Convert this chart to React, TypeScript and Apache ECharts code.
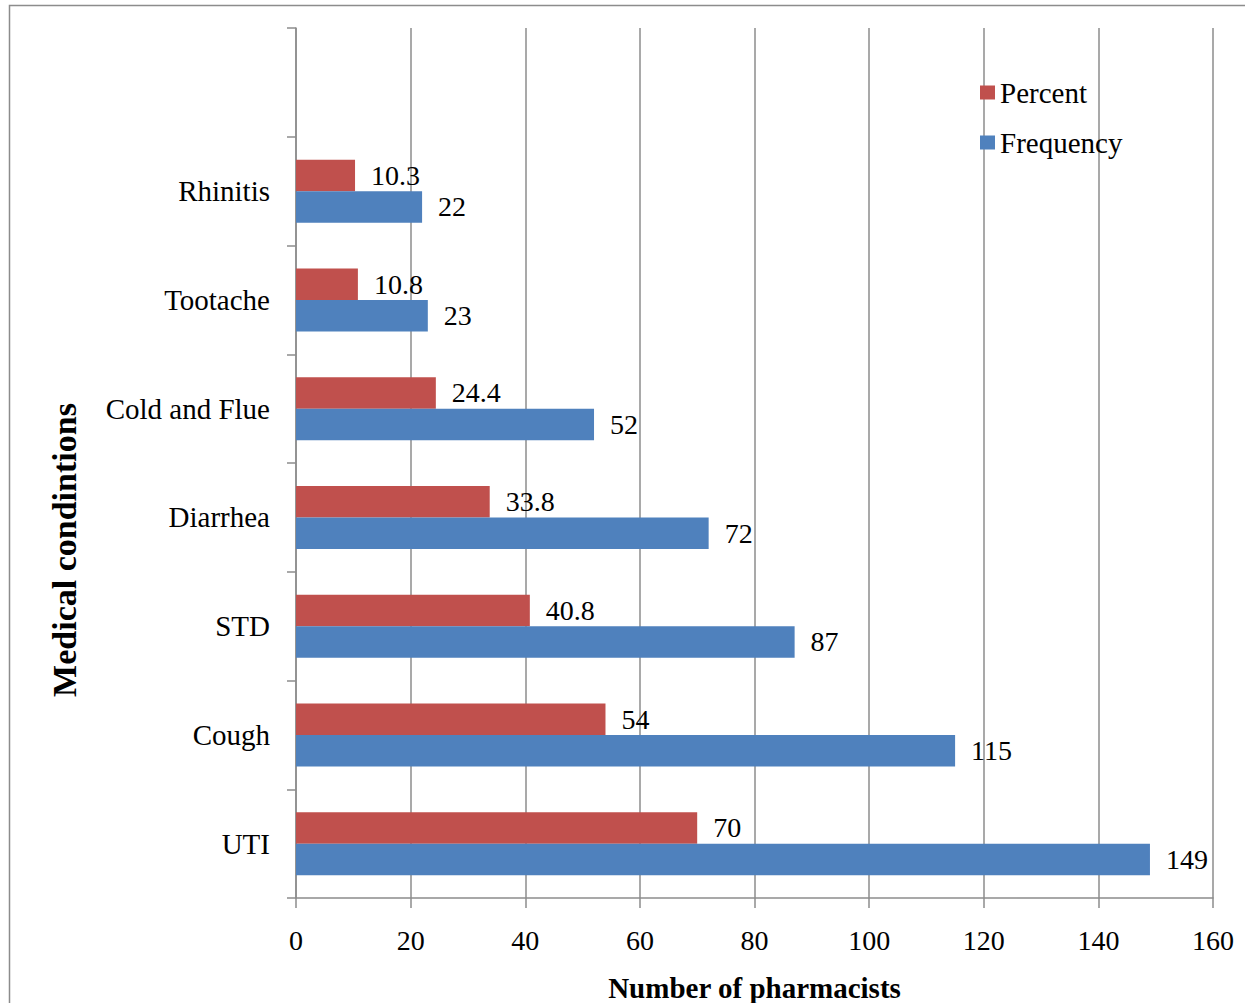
import React, { useEffect, useRef } from "react";
import * as echarts from "echarts";

const categories = ["UTI", "Cough", "STD", "Diarrhea", "Cold and Flue", "Tootache", "Rhinitis", ""];
const percentValues = [70, 54, 40.8, 33.8, 24.4, 10.8, 10.3, null];
const frequencyValues = [149, 115, 87, 72, 52, 23, 22, null];
const xTicks = { min: 0, max: 160, interval: 20 };

const FONT = "'Liberation Serif', 'Times New Roman', serif";

export default function App() {
  const ref = useRef<HTMLDivElement>(null);
  useEffect(() => {
    if (!ref.current) return;
    const chart = echarts.init(ref.current, null, { renderer: "svg" });
    const labelStyle = {
      show: true,
      position: "right",
      distance: 16,
      color: "#000",
      fontFamily: FONT,
      fontSize: 28,
    };
    chart.setOption({
      animation: false,
      backgroundColor: "#fff",
      grid: {
        left: 296,
        top: 28,
        width: 917,
        height: 870,
        containLabel: false,
        outerBoundsMode: "none",
      },
      legend: {
        orient: "vertical",
        left: 980,
        top: 78,
        padding: 0,
        itemWidth: 15,
        itemHeight: 14,
        itemGap: 21,
        icon: "rect",
        textStyle: { fontFamily: FONT, fontSize: 29, color: "#000", lineHeight: 29 },
        data: ["Percent", "Frequency"],
      },
      xAxis: {
        type: "value",
        min: xTicks.min,
        max: xTicks.max,
        interval: xTicks.interval,
        name: "Number of pharmacists",
        nameLocation: "middle",
        nameGap: 75,
        nameTextStyle: { fontFamily: FONT, fontSize: 29, fontWeight: "bold", color: "#000" },
        axisLine: { show: true, lineStyle: { color: "#8c8c8c", width: 1.5 } },
        axisTick: { show: true, length: 10, lineStyle: { color: "#8c8c8c", width: 1.5 } },
        axisLabel: { margin: 28, fontFamily: FONT, fontSize: 28, color: "#000" },
        splitLine: { show: true, lineStyle: { color: "#8c8c8c", width: 1.5 } },
      },
      yAxis: {
        type: "category",
        data: categories,
        axisLine: { show: true, lineStyle: { color: "#8c8c8c", width: 1.5 } },
        axisTick: { show: true, length: 9, lineStyle: { color: "#8c8c8c", width: 1.5 } },
        axisLabel: { margin: 26, fontFamily: FONT, fontSize: 29, color: "#000" },
        splitLine: { show: false },
      },
      graphic: [
        {
          type: "rect",
          shape: { x: 9.5, y: 5.5, width: 1400, height: 1200 },
          style: { fill: "none", stroke: "#8c8c8c", lineWidth: 1.5 },
          silent: true,
        },
        {
          type: "text",
          x: 64,
          y: 550,
          rotation: Math.PI / 2,
          style: {
            text: "Medical condintions",
            fontFamily: FONT,
            fontSize: 34,
            fontWeight: "bold",
            fill: "#000",
            align: "center",
            verticalAlign: "middle",
          },
        },
      ],
      series: [
        {
          name: "Percent",
          type: "bar",
          data: percentValues,
          barWidth: 31.5,
          barGap: "0%",
          itemStyle: { color: "#C0504D" },
          label: labelStyle,
        },
        {
          name: "Frequency",
          type: "bar",
          data: frequencyValues,
          barWidth: 31.5,
          barGap: "0%",
          itemStyle: { color: "#4F81BD" },
          label: labelStyle,
        },
      ],
    });
    return () => chart.dispose();
  }, []);
  return (
    <div
      ref={ref}
      style={{ position: "absolute", left: 0, top: 0, width: 1245, height: 1003 }}
    />
  );
}
